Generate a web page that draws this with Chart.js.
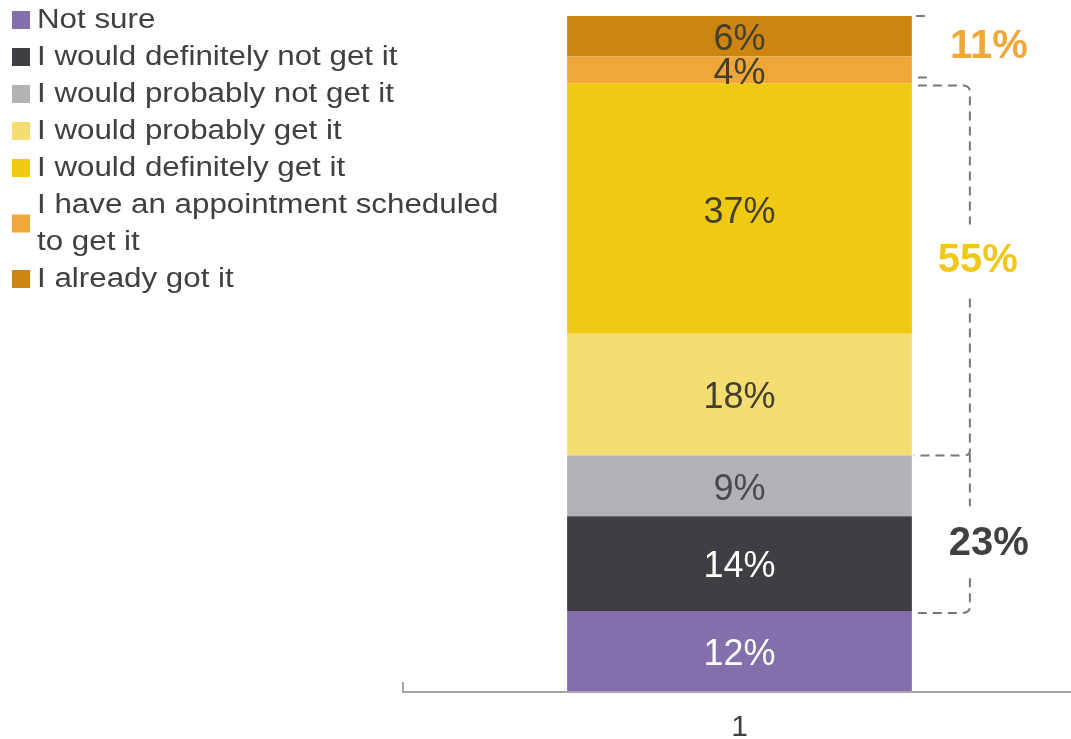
<!DOCTYPE html>
<html>
<head>
<meta charset="utf-8">
<script src="https://cdn.jsdelivr.net/npm/chart.js@4/dist/chart.umd.min.js"></script>
<style>
  html, body { margin: 0; padding: 0; background: #fff; }
  canvas { display: block; }
</style>
</head>
<body>
<canvas id="vacina" width="1071" height="739"></canvas>
<script>
//---------------------- Data -----------------------//
const categories = ['1'];
const answers = [
    'Not sure',
    'I would definitely not get it',
    'I would probably not get it',
    'I would probably get it',
    'I would definitely get it',
    ['I have an appointment scheduled', 'to get it'],
    'I already got it'
];
const shares = [12, 14, 9, 18, 37, 4, 6];
const colors = ['#826fab', '#403e44', '#b4b2b7', '#f5dd72', '#f0c915', '#efa737', '#cd8411'];
const valueColors = ['#ffffff', '#ffffff', '#4a4a4e', '#43402f', '#43402f', '#43402f', '#43402f'];

// groups of stacked answers with their printed totals (dataset indexes)
const groupFrom = [5, 3, 1];
const groupTo = [6, 4, 2];
const groupText = ['11%', '55%', '23%'];
const groupColors = ['#f0a838', '#f0c818', '#404040'];

const textGrey = '#404040';
const axisGrey = '#a6a6a6';
const fontFamily = '"Liberation Sans", Arial, sans-serif';

//---------------------- Plugins -----------------------//

// percent value written in the middle of each segment
const segmentLabels = {
    id: 'segmentLabels',
    afterDatasetsDraw(chart) {
        const ctx = chart.ctx;
        ctx.save();
        ctx.font = `36px ${fontFamily}`;
        ctx.textAlign = 'center';
        ctx.textBaseline = 'middle';
        chart.data.datasets.forEach((ds, i) => {
            const bar = chart.getDatasetMeta(i).data[0];
            ctx.fillStyle = valueColors[i];
            ctx.fillText(`${ds.data[0]}%`, bar.x, (bar.y + bar.base) / 2 + 4);
        });
        ctx.restore();
    }
};

// legend in the top-left corner, drawn over the empty space
const sideLegend = {
    id: 'sideLegend',
    afterDraw(chart) {
        const ctx = chart.ctx;
        const pitch = 37;
        let y = 21;
        ctx.save();
        ctx.font = `27px ${fontFamily}`;
        ctx.textBaseline = 'middle';
        chart.data.datasets.forEach((ds) => {
            const lines = Array.isArray(ds.label) ? ds.label : [ds.label];
            const boxY = y + (lines.length - 1) * pitch / 2;
            ctx.fillStyle = ds.backgroundColor;
            ctx.fillRect(12, boxY - 10, 18, 18);
            ctx.fillStyle = textGrey;
            lines.forEach((line, k) => {
                ctx.save();
                ctx.translate(37, y + k * pitch);
                ctx.scale(1.16, 1);
                ctx.fillText(line, 0, 0);
                ctx.restore();
            });
            y += lines.length * pitch;
        });
        ctx.restore();
    }
};

// dashed brackets and the bold group totals on the right of the bar
const groupBrackets = {
    id: 'groupBrackets',
    afterDraw(chart) {
        const ctx = chart.ctx;
        const yScale = chart.scales.y;
        const bar = chart.getDatasetMeta(0).data[0];
        const right = bar.x + bar.width / 2;
        const vx = right + 58;

        const cum = [];
        let acc = 0;
        shares.forEach((v) => { cum.push(acc); acc += v; });
        const lowOf = (g) => yScale.getPixelForValue(cum[groupFrom[g]]);
        const highOf = (g) => yScale.getPixelForValue(cum[groupTo[g]] + shares[groupTo[g]]);

        const labelY = [highOf(0) + 31, (highOf(1) + lowOf(1)) / 2 - 9, (highOf(2) + lowOf(2)) / 2 + 11];
        const labelX = [right + 77, right + 66, right + 77];

        ctx.save();
        ctx.strokeStyle = '#77777f';
        ctx.lineWidth = 2;
        ctx.setLineDash([9, 6]);

        // short marks closing the top group
        ctx.beginPath();
        ctx.moveTo(right + 4, highOf(0));
        ctx.lineTo(right + 18, highOf(0));
        ctx.moveTo(right + 6, lowOf(0) - 6);
        ctx.lineTo(right + 16, lowOf(0) - 6);
        ctx.stroke();

        // top arm of the middle group
        const top1 = highOf(1) + 2;
        ctx.beginPath();
        ctx.moveTo(right + 6, top1);
        ctx.lineTo(vx - 6, top1);
        ctx.quadraticCurveTo(vx, top1 + 1, vx, top1 + 6);
        ctx.lineTo(vx, labelY[1] - 36);
        ctx.stroke();

        ctx.beginPath();
        ctx.moveTo(vx, labelY[1] + 38);
        ctx.lineTo(vx, lowOf(1) - 5);
        ctx.quadraticCurveTo(vx, lowOf(1), vx - 6, lowOf(1));
        ctx.lineTo(right + 2, lowOf(1));
        ctx.stroke();

        ctx.beginPath();
        ctx.moveTo(vx, lowOf(1) - 2);
        ctx.lineTo(vx, labelY[2] - 38);
        ctx.stroke();

        // bottom arm of the lower group
        const bot2 = lowOf(2) + 2;
        ctx.beginPath();
        ctx.moveTo(vx, labelY[2] + 34);
        ctx.lineTo(vx, bot2 - 6);
        ctx.quadraticCurveTo(vx, bot2 - 1, vx - 6, bot2);
        ctx.lineTo(right + 6, bot2);
        ctx.stroke();

        ctx.setLineDash([]);
        ctx.font = `bold 40px ${fontFamily}`;
        ctx.textAlign = 'center';
        ctx.textBaseline = 'middle';
        groupText.forEach((t, g) => {
            ctx.fillStyle = groupColors[g];
            ctx.fillText(t, labelX[g], labelY[g]);
        });
        ctx.restore();
    }
};

// axis line, running a little past the plot area on the left, with its end tick
const axisLine = {
    id: 'axisLine',
    afterDraw(chart) {
        const ctx = chart.ctx;
        const area = chart.chartArea;
        const x0 = area.left - 5;
        ctx.save();
        ctx.strokeStyle = axisGrey;
        ctx.lineWidth = 2;
        ctx.beginPath();
        ctx.moveTo(x0, area.bottom - 10);
        ctx.lineTo(x0, area.bottom);
        ctx.lineTo(area.right, area.bottom);
        ctx.stroke();
        ctx.restore();
    }
};

//---------------------- Chart -----------------------//

new Chart(document.getElementById('vacina'), {
    type: 'bar',
    data: {
        labels: categories,
        datasets: answers.map((label, i) => ({
            label: label,
            data: [shares[i]],
            backgroundColor: colors[i],
            borderWidth: 0,
            barPercentage: 0.52,
            categoryPercentage: 1
        }))
    },
    options: {
        responsive: false,
        animation: false,
        devicePixelRatio: 1,
        layout: { padding: { left: 408, top: 16, right: 0, bottom: 0 } },
        plugins: {
            legend: { display: false },
            tooltip: { enabled: false },
            title: { display: false }
        },
        scales: {
            x: {
                stacked: true,
                grid: { display: false },
                border: { display: false },
                ticks: { color: textGrey, font: { size: 30, family: fontFamily }, padding: 10 },
                afterFit: (scale) => { scale.height = 47; }
            },
            y: {
                stacked: true,
                display: false,
                min: 0,
                max: 100
            }
        }
    },
    plugins: [segmentLabels, sideLegend, groupBrackets, axisLine]
});
</script>
</body>
</html>
